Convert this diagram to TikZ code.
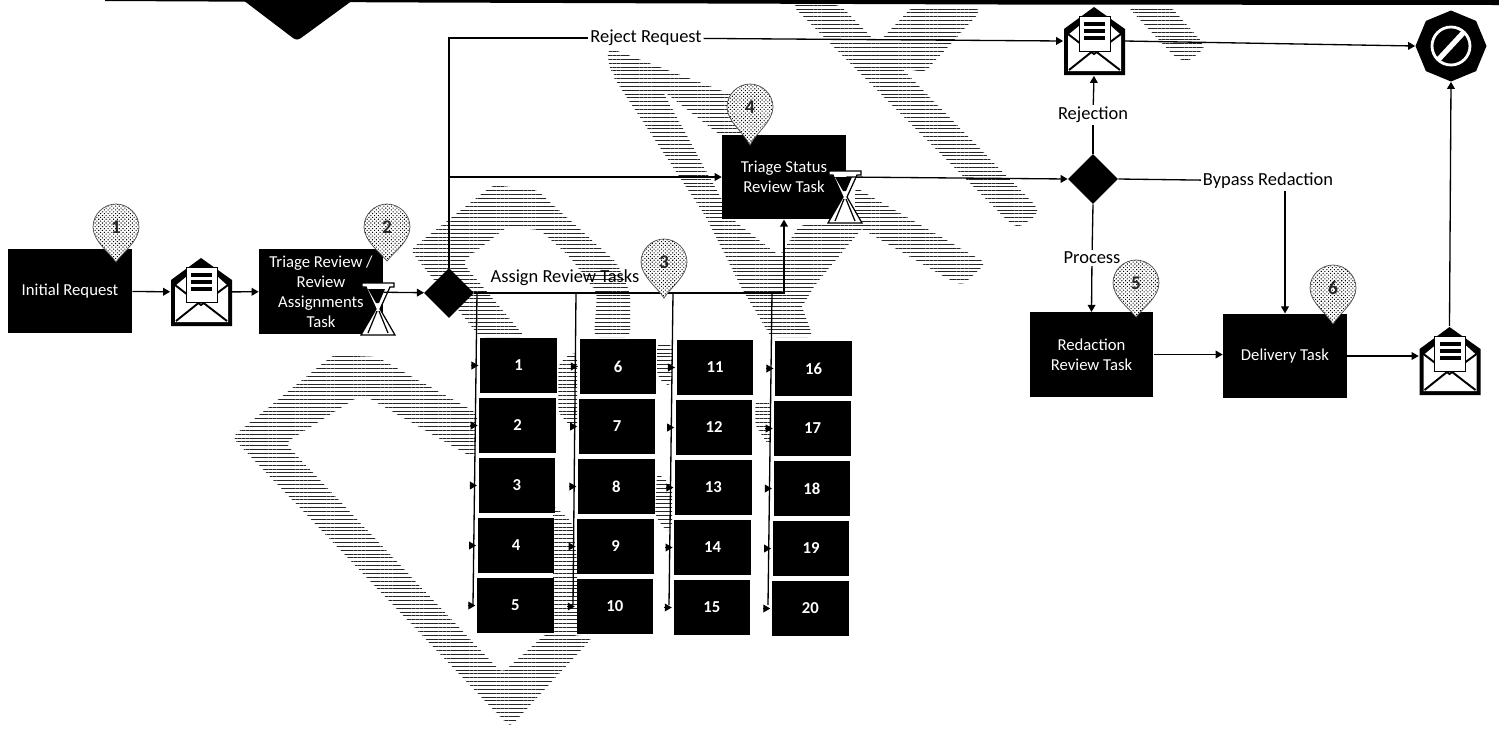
\documentclass[tikz,border=0pt]{standalone}
\usepackage{fontspec}
\setmainfont{Carlito}
\usetikzlibrary{positioning,arrows.meta,shapes.geometric,patterns,patterns.meta}

\tikzset{
    taskbox/.style={fill=black,text=white,inner sep=0pt,minimum width=2.48cm,minimum height=1.69cm,align=center,font=\fontsize{9.5}{11.3}\selectfont},
    numbox/.style={fill=black,text=white,inner sep=0pt,minimum width=1.53cm,minimum height=1.1cm,font=\fontsize{9.5}{11}\selectfont\bfseries},
    gate/.style={diamond,fill=black,aspect=1,inner sep=0pt,minimum size=1cm},
    mailnode/.style={inner sep=0pt,minimum width=1.22cm,minimum height=1.38cm},
    stopnode/.style={regular polygon,regular polygon sides=8,shape border rotate=22.5,fill=black,inner sep=0pt,minimum size=1.42cm},
    lbl/.style={fill=white,inner sep=1pt,font=\fontsize{10.5}{12}\selectfont},
    wire/.style={line width=.75pt},
    flow/.style={wire,-{Triangle[length=4pt,width=4.4pt]}},
    hatch/.style={pattern={Lines[angle=0,distance=2.2pt,line width=.55pt]},pattern color=black!85,rounded corners=3pt},
    pinbody/.style={preaction={fill=white},pattern={Dots[angle=45,distance=1.5pt,radius=.42pt]},pattern color=black,draw=black!70,line width=.4pt},
    mailicon/.pic={
        \fill[black] (-30,-12) -- (0,-34) -- (31,-12) -- (31,34) -- (-30,34) -- cycle;
        \fill[white] (-26,-6) -- (-15,-15) -- (17,-15) -- (27,-6) -- (27,30) -- (-26,30) -- cycle;
        \draw[line width=1.1pt] (-26,-7) -- (0,13) -- (27,-7);
        \draw[line width=1.1pt] (-25,29) -- (0,9) -- (26,29);
        \fill[white,draw=black,line width=.5pt] (-15,-25) rectangle (16,10);
        \foreach \r in {-19,-12,-5} {
            \fill[black] (-10,\r) rectangle (11,\r+4);
        }
    },
    sandglass/.pic={
        \draw[fill=white,draw=black,line width=.7pt] (-16,-26) -- (16,-26) -- (16,-22) -- (12,-22) -- (2,0) -- (17,26) -- (-17,26) -- (-2,0) -- (-12,-22) -- (-16,-22) -- cycle;
        \fill[black] (-10,-20) -- (7,-20) -- (1,-6) -- (-2,-6) -- cycle;
        \draw[line width=.7pt] (-1,2) -- (-10,24);
        \draw[line width=.7pt] (1,2) -- (10,24);
    }
}

\begin{document}
\begin{tikzpicture}[x=0.02cm,y=-0.02cm]
    \useasboundingbox (0,0) rectangle (1499,728);
    % top edge of the page
    \fill[black] (105,0) -- (1499,0) -- (1499,5) -- (1000,4.5) -- (420,2.5) -- (105,1) -- cycle;
    \fill[black] (243,0) -- (353,0) -- (301,38) .. controls (298,40) and (296,40) .. (293,38) -- cycle;
    % scanned watermark stripes
    \fill[hatch] (232,437) -- (333,355) -- (377,357) -- (477,413) -- (475,459) -- (367,397) -- (358,397) -- (285,443) -- (502,673) -- (547,633) -- (593,637) -- (510,727) -- cycle;
    \fill[hatch] (410,250) -- (493,185) -- (537,190) -- (617,263) -- (630,293) -- (630,337) -- (594,337) -- (597,293) -- (570,257) -- (540,230) -- (507,227) -- (462,262) -- (525,337) -- (480,337) -- cycle;
    \fill[hatch] (553,505) -- (572,522) -- (577,560) -- (577,637) -- (553,637) -- cycle;
    \fill[hatch] (558,365) -- (572,352) -- (577,355) -- (577,428) -- (572,428) -- (558,412) -- cycle;
    \fill[hatch] (657,343) -- (672,343) -- (672,385) -- (665,385) -- (657,375) -- cycle;
    \fill[hatch] (657,473) -- (672,485) -- (672,530) -- (665,530) -- (655,515) -- cycle;
    \fill[hatch] (755,400) -- (770,400) -- (770,447) -- (755,425) -- cycle;
    \fill[hatch] (792,5) -- (840,5) -- (1037,207) -- (1037,215) -- (1018,228) -- (1009,222) -- cycle;
    \fill[hatch] (913,6) -- (975,6) -- (980,12) -- (925,72) -- (860,62) -- cycle;
    \fill[hatch] (607,50) -- (615,50) -- (733,95) -- (745,135) -- (720,135) -- (662,90) -- (628,90) -- (610,70) -- cycle;
    \fill[hatch] (612,75) -- (662,90) -- (733,220) -- (785,260) -- (813,337) -- (771,337) -- (741,287) -- (706,217) -- cycle;
    \fill[hatch] (770,270) -- (800,225) -- (865,225) -- (815,285) -- (800,310) -- cycle;
    \fill[hatch] (855,187) -- (986,263) -- (963,285) -- (950,280) -- (855,225) -- cycle;
    \fill[hatch] (1127,6) -- (1170,6) -- (1203,43) -- (1203,50) -- (1187,62) -- (1175,57) -- cycle;
    % main row
    \node[taskbox] (initial) at (70,291) {Initial Request};
    \node[mailnode] (envA) at (201,292) {};
    \node[taskbox] (triage) at (321,291.5) {Triage Review /\\Review\\Assignments\\Task};
    \node[gate] (decA) at (449,293) {};
    \node[taskbox] (status) at (784,177) {Triage Status\\Review Task};
    \node[gate] (decB) at (1093,179) {};
    \node[mailnode] (envB) at (1094,41) {};
    \node[stopnode] (stop) at (1451,46) {};
    \node[taskbox] (redact) at (1091.5,354.5) {Redaction\\Review Task};
    \node[taskbox] (deliver) at (1285,356) {Delivery Task};
    \node[mailnode] (envC) at (1449.5,361) {};
    \pic at (envA) {mailicon};
    \pic at (envB) {mailicon};
    \pic at (envC) {mailicon};
    \pic at (378,309) {sandglass};
    \pic at (845,197) {sandglass};
    \draw[white,line width=1.6pt] (stop) circle (19);
    \draw[white,line width=3pt] (1438,60) -- (1464,32);
    % labels on the connectors
    \node[lbl] (lblreject) at (646,38) {Reject Request};
    \node[lbl] (lblrejection) at (1093,115) {Rejection};
    \node[lbl] (lblbypass) at (1268,181) {Bypass Redaction};
    \node[lbl] (lblprocess) at (1092,258) {Process};
    \node[lbl,fill=none] (lblassign) at (565,278) {Assign Review Tasks};
    % connectors
    \draw[flow] (initial) -- (envA);
    \draw[flow] (envA) -- (triage);
    \draw[flow] (triage) -- (decA);
    \draw[wire] (decA.north) |- (lblreject);
    \draw[flow] (lblreject) -- (envB.west);
    \draw[flow] (decA.north |- status.west) -- (status.west);
    \draw[flow] (decA.east) -| (status.south);
    \draw[flow] (status.east) -- (decB.west);
    \draw[wire] (decB.north) -- (lblrejection);
    \draw[flow] (lblrejection) -- (envB.south);
    \draw[flow] (envB.east) -- (stop.west);
    \draw[wire] (decB.east) -- (lblbypass);
    \draw[flow] (lblbypass.south -| deliver.north) -- (deliver.north);
    \draw[wire] (decB.south) -- (lblprocess);
    \draw[flow] (lblprocess) -- (redact.north);
    \draw[flow] (redact.east) -- (redact.east -| deliver.west);
    \draw[flow] (deliver.east) -- (deliver.east -| envC.west);
    \draw[flow] (envC.north) -- (stop.south);
    % the twenty review tasks
    \foreach \c/\x/\y/\topx/\botx in {0/518.5/365.5/477/473, 1/618/366.5/576/573, 2/715/367.5/673/669, 3/813.5/368.5/772/768} {
        \coordinate (top\c) at (\topx,293);
        \coordinate (bot\c) at (\botx,605);
        \draw[wire] (top\c) -- (bot\c);
        \foreach \r in {1,...,5} {
            \pgfmathtruncatemacro{\n}{5*\c+\r}
            \node[numbox] (task\n) at ({\x-0.8*(\r-1)},{\y+60*(\r-1)}) {\n};
            \coordinate (stub\n) at ([xshift=-5pt]task\n.west);
            \draw[flow] (stub\n) -- ([xshift=-.8pt]task\n.west);
        }
    }
    % numbered markers
    \foreach \n/\x/\y/\h in {1/116/227/35, 2/387/227/34, 3/664/262/36, 4/750/107/38, 5/1136/283/34, 6/1333/288/36} {
        \draw[pinbody] (\x,\y+\h) .. controls (\x-7,\y+25) and (\x-23,\y+14) .. (\x-23,\y) .. controls (\x-23,\y-13) and (\x-12,\y-23) .. (\x,\y-23) .. controls (\x+12,\y-23) and (\x+23,\y-13) .. (\x+23,\y) .. controls (\x+23,\y+14) and (\x+7,\y+25) .. cycle;
        \node[text=black!85,font=\fontsize{11}{13}\selectfont\bfseries] (marker\n) at (\x,\y) {\n};
    }
\end{tikzpicture}
\end{document}
